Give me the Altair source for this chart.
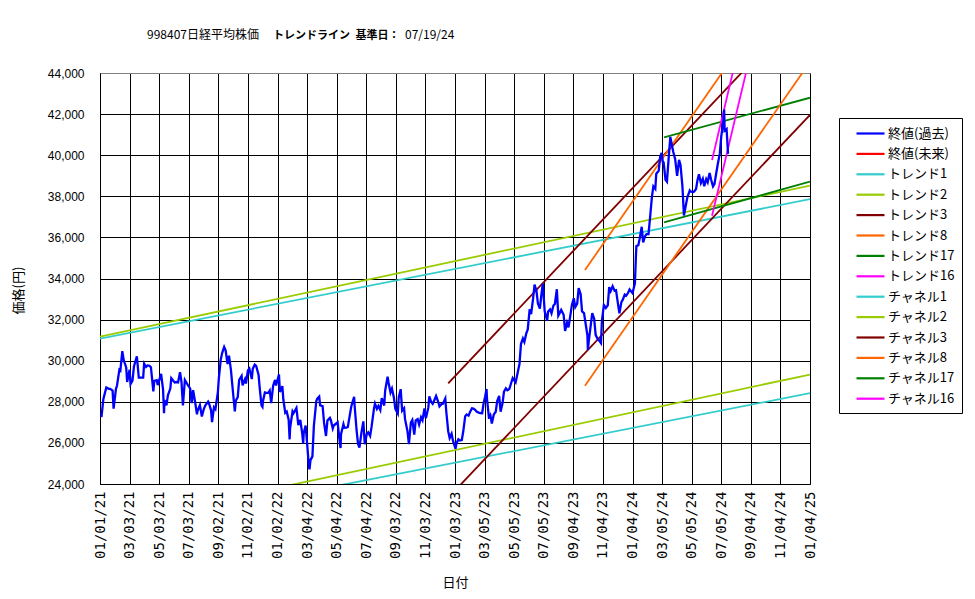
import altair as alt
import pandas as pd

TITLE_PARTS = ["998407日経平均株価", "トレンドライン\u2002基準日：", "07/19/24"]
X_TITLE = "日付"
Y_TITLE = "価格(円)"

X_LABELS = ["01/01/21", "03/03/21", "05/03/21", "07/03/21", "09/02/21", "11/02/21",
            "01/02/22", "03/04/22", "05/04/22", "07/04/22", "09/03/22", "11/03/22",
            "01/03/23", "03/05/23", "05/05/23", "07/05/23", "09/04/23", "11/04/23",
            "01/04/24", "03/05/24", "05/05/24", "07/05/24", "09/04/24", "11/04/24",
            "01/04/25"]
X_START = "2021-01-01"
X_END = "2025-01-04"
LABEL_STEP_DAYS = 61
Y_TICKS = [24000, 26000, 28000, 30000, 32000, 34000, 36000, 38000, 40000, 42000, 44000]

SERIES = ["終値(過去)", "終値(未来)", "トレンド1", "トレンド2", "トレンド3", "トレンド8",
          "トレンド17", "トレンド16", "チャネル1", "チャネル2", "チャネル3", "チャネル8",
          "チャネル17", "チャネル16"]
COLORS = ["#0000FF", "#FF0000", "#33CCCC", "#99CC00", "#800000", "#FF6600", "#008000",
          "#FF00FF", "#33CCCC", "#99CC00", "#800000", "#FF6600", "#008000", "#FF00FF"]

CLOSE_2021 = [
    ("2021-01-04", 27258), ("2021-01-08", 28139), ("2021-01-14", 28698), ("2021-01-19", 28633),
    ("2021-01-22", 28631), ("2021-01-27", 28546), ("2021-01-29", 27663), ("2021-02-03", 28646),
    ("2021-02-05", 28779), ("2021-02-10", 29562), ("2021-02-12", 29520), ("2021-02-16", 30467),
    ("2021-02-19", 30018), ("2021-02-24", 29672), ("2021-02-26", 28966), ("2021-03-03", 29559),
    ("2021-03-05", 28864), ("2021-03-09", 29027), ("2021-03-12", 29718), ("2021-03-18", 30216),
    ("2021-03-22", 29174), ("2021-03-26", 29176), ("2021-03-31", 29179), ("2021-04-02", 29854),
    ("2021-04-06", 29696), ("2021-04-09", 29768), ("2021-04-13", 29751), ("2021-04-16", 29683),
    ("2021-04-21", 28508), ("2021-04-23", 29020), ("2021-04-28", 29053), ("2021-04-30", 28812),
    ("2021-05-07", 29357), ("2021-05-11", 28608), ("2021-05-13", 27448), ("2021-05-14", 28084),
    ("2021-05-18", 27824), ("2021-05-21", 28317), ("2021-05-26", 28642), ("2021-05-28", 29149),
    ("2021-06-04", 28941), ("2021-06-08", 28963), ("2021-06-11", 28948), ("2021-06-15", 29441),
    ("2021-06-18", 28964), ("2021-06-21", 27822), ("2021-06-25", 29066), ("2021-07-02", 28783),
    ("2021-07-06", 28643), ("2021-07-09", 27940), ("2021-07-12", 28569), ("2021-07-16", 28003),
    ("2021-07-20", 27388), ("2021-07-21", 27548), ("2021-07-26", 27834), ("2021-07-30", 27283),
    ("2021-08-03", 27641), ("2021-08-06", 27820), ("2021-08-12", 28015), ("2021-08-13", 27977),
    ("2021-08-18", 27585), ("2021-08-20", 27013), ("2021-08-24", 27733), ("2021-08-27", 27641),
    ("2021-09-01", 28451), ("2021-09-03", 29128), ("2021-09-07", 30056), ("2021-09-10", 30381),
    ("2021-09-14", 30670), ("2021-09-17", 30500), ("2021-09-21", 29840), ("2021-09-24", 30248),
    ("2021-09-28", 29544), ("2021-10-01", 28771), ("2021-10-06", 27528), ("2021-10-08", 28048),
    ("2021-10-12", 28230), ("2021-10-15", 29068), ("2021-10-20", 29255), ("2021-10-22", 28804),
    ("2021-10-27", 29098), ("2021-10-29", 28892), ("2021-11-02", 29520), ("2021-11-05", 29611),
    ("2021-11-10", 29106), ("2021-11-12", 29609), ("2021-11-16", 29808), ("2021-11-19", 29745),
    ("2021-11-24", 29302), ("2021-11-26", 28751), ("2021-11-30", 27822), ("2021-12-02", 27753),
    ("2021-12-03", 28029), ("2021-12-07", 28455), ("2021-12-10", 28437), ("2021-12-14", 28432),
    ("2021-12-17", 28545), ("2021-12-20", 27937), ("2021-12-24", 28782), ("2021-12-28", 29069),
    ("2021-12-30", 28791),
]
CLOSE_2022 = [
    ("2022-01-05", 29332), ("2022-01-07", 28478), ("2022-01-12", 28765), ("2022-01-14", 28124),
    ("2022-01-18", 27467), ("2022-01-21", 27522), ("2022-01-25", 27131), ("2022-01-27", 26170),
    ("2022-01-28", 26717), ("2022-02-02", 27533), ("2022-02-04", 27440), ("2022-02-10", 27696),
    ("2022-02-14", 26865), ("2022-02-18", 27122), ("2022-02-22", 26449), ("2022-02-24", 25970),
    ("2022-02-25", 26476), ("2022-03-01", 26844), ("2022-03-04", 25985), ("2022-03-08", 24791),
    ("2022-03-09", 24717), ("2022-03-11", 25162), ("2022-03-15", 25346), ("2022-03-18", 26827),
    ("2022-03-23", 28040), ("2022-03-25", 28149), ("2022-03-29", 28252), ("2022-03-31", 27821),
    ("2022-04-05", 27787), ("2022-04-08", 26985), ("2022-04-12", 26335), ("2022-04-15", 27093),
    ("2022-04-20", 27218), ("2022-04-22", 27105), ("2022-04-26", 26700), ("2022-04-28", 26847),
    ("2022-05-06", 27003), ("2022-05-09", 26319), ("2022-05-12", 25748), ("2022-05-13", 26427),
    ("2022-05-18", 26911), ("2022-05-20", 26739), ("2022-05-24", 26748), ("2022-05-27", 26781),
    ("2022-06-03", 27761), ("2022-06-09", 28246), ("2022-06-10", 27824), ("2022-06-14", 26629),
    ("2022-06-17", 25963), ("2022-06-20", 25771), ("2022-06-24", 26491), ("2022-06-28", 27049),
    ("2022-07-01", 25935), ("2022-07-05", 26423), ("2022-07-08", 26517), ("2022-07-12", 26336),
    ("2022-07-15", 26788), ("2022-07-20", 27680), ("2022-07-22", 27914), ("2022-07-26", 27655),
    ("2022-07-29", 27801), ("2022-08-02", 27594), ("2022-08-05", 28176), ("2022-08-10", 27819),
    ("2022-08-12", 28546), ("2022-08-17", 29222), ("2022-08-19", 28930), ("2022-08-23", 28452),
    ("2022-08-26", 28641), ("2022-08-30", 28195), ("2022-09-02", 27650), ("2022-09-07", 27430),
    ("2022-09-09", 28214), ("2022-09-13", 28614), ("2022-09-16", 27567), ("2022-09-20", 27688),
    ("2022-09-22", 27153), ("2022-09-27", 26571), ("2022-09-30", 25937), ("2022-10-04", 26992),
    ("2022-10-07", 27116), ("2022-10-11", 26401), ("2022-10-14", 27090), ("2022-10-18", 27156),
    ("2022-10-21", 26890), ("2022-10-25", 27250), ("2022-10-28", 27105), ("2022-11-01", 27678),
    ("2022-11-04", 27200), ("2022-11-09", 27716), ("2022-11-11", 28263), ("2022-11-15", 27990),
    ("2022-11-18", 27900), ("2022-11-22", 28115), ("2022-11-25", 28283), ("2022-11-29", 28027),
    ("2022-12-02", 27778), ("2022-12-06", 27885), ("2022-12-09", 27901), ("2022-12-14", 28156),
    ("2022-12-16", 27527), ("2022-12-20", 26568), ("2022-12-23", 26235), ("2022-12-27", 26447),
    ("2022-12-30", 26095),
]
CLOSE_2023 = [
    ("2023-01-04", 25717), ("2023-01-06", 25974), ("2023-01-10", 26175), ("2023-01-13", 26120),
    ("2023-01-17", 26138), ("2023-01-20", 26553), ("2023-01-24", 27299), ("2023-01-27", 27382),
    ("2023-01-31", 27327), ("2023-02-03", 27509), ("2023-02-07", 27685), ("2023-02-10", 27670),
    ("2023-02-14", 27602), ("2023-02-17", 27513), ("2023-02-21", 27473), ("2023-02-24", 27453),
    ("2023-02-28", 27446), ("2023-03-03", 27927), ("2023-03-06", 28238), ("2023-03-09", 28623),
    ("2023-03-10", 28143), ("2023-03-14", 27222), ("2023-03-15", 27229), ("2023-03-17", 27333),
    ("2023-03-20", 26946), ("2023-03-24", 27385), ("2023-03-28", 27518), ("2023-03-31", 28041),
    ("2023-04-04", 28287), ("2023-04-07", 27518), ("2023-04-11", 27923), ("2023-04-14", 28493),
    ("2023-04-18", 28658), ("2023-04-21", 28564), ("2023-04-25", 28620), ("2023-04-28", 28856),
    ("2023-05-02", 29157), ("2023-05-08", 28950), ("2023-05-12", 29388), ("2023-05-16", 29842),
    ("2023-05-19", 30808), ("2023-05-23", 31086), ("2023-05-26", 30916), ("2023-05-30", 31328),
    ("2023-06-02", 31524), ("2023-06-06", 32506), ("2023-06-09", 32265), ("2023-06-13", 33018),
    ("2023-06-16", 33706), ("2023-06-20", 33388), ("2023-06-23", 32781), ("2023-06-27", 32538),
    ("2023-06-30", 33189), ("2023-07-03", 33753), ("2023-07-07", 32388), ("2023-07-12", 31943),
    ("2023-07-14", 32391), ("2023-07-18", 32493), ("2023-07-21", 32304), ("2023-07-25", 32682),
    ("2023-07-28", 32759), ("2023-08-01", 33476), ("2023-08-04", 32192), ("2023-08-08", 32377),
    ("2023-08-10", 32473), ("2023-08-15", 32238), ("2023-08-18", 31450), ("2023-08-22", 31856),
    ("2023-08-25", 31624), ("2023-08-29", 32227), ("2023-09-01", 32710), ("2023-09-05", 33036),
    ("2023-09-08", 32606), ("2023-09-12", 32776), ("2023-09-15", 33533), ("2023-09-19", 33242),
    ("2023-09-22", 32402), ("2023-09-26", 32315), ("2023-09-29", 31857), ("2023-10-03", 31237),
    ("2023-10-04", 30526), ("2023-10-06", 30994), ("2023-10-10", 31746), ("2023-10-13", 32315),
    ("2023-10-17", 32040), ("2023-10-20", 31259), ("2023-10-24", 31062), ("2023-10-27", 30991),
    ("2023-10-31", 30858), ("2023-11-02", 31950), ("2023-11-06", 32708), ("2023-11-10", 32568),
    ("2023-11-14", 32695), ("2023-11-17", 33585), ("2023-11-20", 33388), ("2023-11-24", 33625),
    ("2023-11-28", 33408), ("2023-12-01", 33431), ("2023-12-05", 32775), ("2023-12-08", 32307),
    ("2023-12-12", 32843), ("2023-12-15", 32970), ("2023-12-19", 33219), ("2023-12-22", 33169),
    ("2023-12-26", 33305), ("2023-12-29", 33464),
]
CLOSE_2024 = [
    ("2024-01-04", 33288), ("2024-01-05", 33377), ("2024-01-09", 33763), ("2024-01-11", 35049),
    ("2024-01-12", 35577), ("2024-01-16", 35620), ("2024-01-19", 35963), ("2024-01-23", 36517),
    ("2024-01-26", 35751), ("2024-01-30", 36066), ("2024-02-02", 36158), ("2024-02-06", 36160),
    ("2024-02-09", 36897), ("2024-02-13", 37963), ("2024-02-16", 38487), ("2024-02-20", 38364),
    ("2024-02-22", 39098), ("2024-02-27", 39239), ("2024-03-01", 39910), ("2024-03-04", 40109),
    ("2024-03-07", 39598), ("2024-03-08", 39688), ("2024-03-12", 38797), ("2024-03-15", 38707),
    ("2024-03-19", 40003), ("2024-03-22", 40888), ("2024-03-26", 40398), ("2024-03-28", 40168),
    ("2024-04-01", 39803), ("2024-04-05", 38992), ("2024-04-09", 39773), ("2024-04-12", 39523),
    ("2024-04-16", 38471), ("2024-04-19", 37068), ("2024-04-22", 37438), ("2024-04-26", 37934),
    ("2024-05-01", 38274), ("2024-05-02", 38236), ("2024-05-08", 38202), ("2024-05-10", 38229),
    ("2024-05-14", 38356), ("2024-05-17", 38787), ("2024-05-20", 39070), ("2024-05-24", 38646),
    ("2024-05-28", 38855), ("2024-05-31", 38487), ("2024-06-04", 38837), ("2024-06-07", 38683),
    ("2024-06-11", 39134), ("2024-06-14", 38814), ("2024-06-18", 38482), ("2024-06-21", 38596),
    ("2024-06-25", 39173), ("2024-06-28", 39583), ("2024-07-02", 40074), ("2024-07-05", 40912),
    ("2024-07-09", 41580), ("2024-07-11", 42224), ("2024-07-12", 41190), ("2024-07-16", 41275),
    ("2024-07-19", 40063),
]

# trend / channel lines: name, start date, start value, end date, end value
LINE_NAMES = ["トレンド1", "トレンド2", "トレンド3", "トレンド8", "トレンド17", "トレンド16",
              "チャネル1", "チャネル2", "チャネル3", "チャネル8", "チャネル17", "チャネル16"]
LINE_START_DATES = ["2021-01-01", "2021-01-01", "2022-12-20", "2023-09-28", "2024-03-09", "2024-06-16",
                    "2021-01-01", "2021-01-01", "2022-12-20", "2023-09-28", "2024-03-09", "2024-06-16"]
LINE_START_VALUES = [31070, 31170, 28901, 34414, 40870, 39767,
                     21650, 21975, 23329, 28786, 36735, 37050]
LINE_END_DATES = ["2025-01-04"] * 12
LINE_END_VALUES = [37860, 38520, 47536, 50167, 42798, 59846,
                   28420, 29325, 41964, 44539, 38711, 57129]

FONT = "Noto Sans CJK JP"
t0 = pd.Timestamp(X_START)
span = (pd.Timestamp(X_END) - t0).days


def day(d):
    return (pd.Timestamp(d) - t0).days


close_rows = [{"series": SERIES[0], "day": day(d), "value": v}
              for d, v in CLOSE_2021 + CLOSE_2022 + CLOSE_2023 + CLOSE_2024]
close_df = pd.DataFrame(close_rows)

line_rows = []
for n, sd, sv, ed, ev in zip(LINE_NAMES, LINE_START_DATES, LINE_START_VALUES, LINE_END_DATES, LINE_END_VALUES):
    line_rows.append({"series": n, "day": day(sd), "value": sv})
    line_rows.append({"series": n, "day": day(ed), "value": ev})
line_df = pd.DataFrame(line_rows)

label_js = "[" + ",".join("'" + s + "'" for s in X_LABELS) + "]"

x_enc = alt.X(
    "day:Q",
    scale=alt.Scale(domain=[0, span], nice=False, zero=False),
    axis=alt.Axis(
        values=[i * LABEL_STEP_DAYS for i in range(len(X_LABELS))],
        labelExpr=f"{label_js}[round(datum.value / {LABEL_STEP_DAYS})]",
        labelAngle=270, labelAlign="right", labelBaseline="middle",
        labelFont="DejaVu Sans Mono", labelFontSize=14, labelColor="black",
        labelPadding=7, ticks=False, grid=True, gridColor="black", gridWidth=1,
        domainColor="black", labelOverlap=False,
        title=X_TITLE, titleFont=FONT, titleFontSize=13, titleFontWeight="normal",
        titleColor="black", titleX=355, titleY=98, titleAlign="center", titleBaseline="middle",
    ),
)
y_enc = alt.Y(
    "value:Q",
    scale=alt.Scale(domain=[Y_TICKS[0], Y_TICKS[-1]], nice=False, zero=False),
    axis=alt.Axis(
        values=Y_TICKS, format=",d",
        labelFont="Liberation Sans", labelFontSize=12, labelColor="black", labelPadding=16,
        ticks=False, grid=True,
        gridColor=alt.condition(f"datum.value == {Y_TICKS[-1]}", alt.value("#808080"), alt.value("#000000")),
        gridWidth=1, domainColor="black",
        title=Y_TITLE, titleFont=FONT, titleFontSize=13, titleFontWeight="normal",
        titleColor="black", titleAngle=270, titleX=-82, titleY=217,
        titleAlign="center", titleBaseline="middle",
    ),
)
color_enc = alt.Color(
    "series:N",
    scale=alt.Scale(domain=SERIES, range=COLORS),
    legend=alt.Legend(
        title=None, orient="none", legendX=739, legendY=45,
        strokeColor="black", fillColor="white", padding=7,
        symbolType="M-2,0H2", symbolSize=196, symbolStrokeWidth=2.2, symbolOffset=16,
        labelOffset=9, labelFont=FONT, labelFontSize=13, labelColor="black",
        rowPadding=4.4, labelLimit=200,
    ),
)

close_layer = alt.Chart(close_df).mark_line(strokeWidth=2.3, clip=True).encode(
    x=x_enc, y=y_enc, color=color_enc, detail="series:N")
trend_layer = alt.Chart(line_df).mark_line(strokeWidth=1.8, clip=True).encode(
    x=x_enc, y=y_enc, color=color_enc, detail="series:N")

title_x = [47, 173, 305]
title_weights = ["normal", "bold", "normal"]
title_sizes = [12, 11, 12]
title_layers = [
    alt.Chart(pd.DataFrame({"t": [TITLE_PARTS[i]]})).mark_text(
        align="left", baseline="alphabetic", font=FONT, fontSize=title_sizes[i],
        fontWeight=title_weights[i], color="black",
    ).encode(text="t:N", x=alt.value(title_x[i]), y=alt.value(-34))
    for i in range(3)
]

chart = alt.layer(trend_layer, close_layer, *title_layers).properties(
    width=710, height=411,
    padding={"left": 100, "top": 73, "right": 165, "bottom": 115},
    autosize=alt.AutoSizeParams(type="none"),
    background="white",
).configure_view(stroke="#808080", strokeWidth=1)

chart.save("out.html", embed_options={"renderer": "svg", "actions": False})
